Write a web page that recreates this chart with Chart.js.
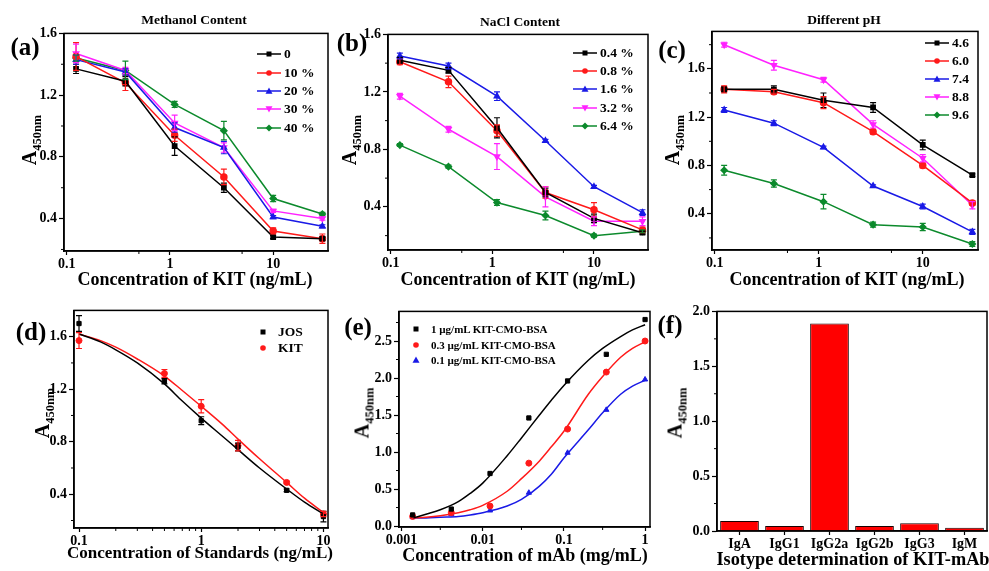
<!DOCTYPE html>
<html>
<head>
<meta charset="utf-8">
<script src="https://cdn.jsdelivr.net/npm/chart.js@4.4.1/dist/chart.umd.min.js"></script>
<style>
  body { margin: 0; width: 989px; height: 571px; overflow: hidden; background: #fff; position: relative;
         font-family: "Liberation Serif", "Times New Roman", serif; font-weight: bold; color: #000; }
  canvas { position: absolute; }
  .t { position: absolute; white-space: nowrap; transform: translate(-50%, -50%); }
  .ylab { position: absolute; white-space: nowrap; transform: translate(-50%, -50%) rotate(-90deg); font-size: 20px; }
  .ylab sub { font-size: 12.5px; }
  .leg { position: absolute; display: flex; align-items: center; white-space: nowrap; transform: translateY(-50%); }
  .leg svg { margin-right: 3px; }
</style>
</head>
<body>
<script>
// x values (ng/mL) for panels a-c
const kitConc = [0.123, 0.37, 1.11, 3.33, 10, 30];

// (a) methanol content
const methanolLabels = ["0", "10 %", "20 %", "30 %", "40 %"];
const meth0 = [1.37, 1.29, 0.87, 0.60, 0.28, 0.27];
const meth10 = [1.45, 1.28, 0.94, 0.67, 0.32, 0.27];
const meth20 = [1.43, 1.35, 0.99, 0.86, 0.41, 0.35];
const meth30 = [1.47, 1.36, 1.02, 0.86, 0.45, 0.40];
const meth40 = [1.44, 1.36, 1.14, 0.97, 0.53, 0.43];
const meth0Err = [0.03, 0.03, 0.06, 0.03, 0.01, 0.01];
const meth10Err = [0.09, 0.05, 0.04, 0.05, 0.02, 0.03];
const meth20Err = [0.03, 0.02, 0.03, 0.04, 0.01, 0.01];
const meth30Err = [0.06, 0.02, 0.05, 0.03, 0.01, 0.01];
const meth40Err = [0.02, 0.06, 0.02, 0.06, 0.02, 0.01];

// (b) NaCl content
const naclLabels = ["0.4 %", "0.8 %", "1.6 %", "3.2 %", "6.4 %"];
const nacl04 = [1.42, 1.35, 0.95, 0.50, 0.32, 0.22];
const nacl08 = [1.41, 1.27, 0.93, 0.50, 0.38, 0.24];
const nacl16 = [1.45, 1.38, 1.17, 0.86, 0.54, 0.36];
const nacl32 = [1.17, 0.94, 0.75, 0.47, 0.30, 0.30];
const nacl64 = [0.83, 0.68, 0.43, 0.34, 0.20, 0.23];
const nacl04Err = [0.02, 0.02, 0.07, 0.03, 0.03, 0.01];
const nacl08Err = [0.02, 0.04, 0.04, 0.04, 0.05, 0.02];
const nacl16Err = [0.02, 0.02, 0.03, 0.01, 0.01, 0.02];
const nacl32Err = [0.02, 0.02, 0.09, 0.07, 0.03, 0.03];
const nacl64Err = [0.01, 0.01, 0.02, 0.03, 0.01, 0.01];

// (c) different pH
const phLabels = ["4.6", "6.0", "7.4", "8.8", "9.6"];
const ph46 = [1.43, 1.43, 1.34, 1.28, 0.97, 0.72];
const ph60 = [1.43, 1.41, 1.32, 1.08, 0.80, 0.49];
const ph74 = [1.26, 1.15, 0.95, 0.63, 0.46, 0.25];
const ph88 = [1.80, 1.63, 1.51, 1.14, 0.86, 0.47];
const ph96 = [0.76, 0.65, 0.50, 0.31, 0.29, 0.15];
const ph46Err = [0.02, 0.03, 0.06, 0.04, 0.04, 0.01];
const ph60Err = [0.03, 0.02, 0.05, 0.02, 0.02, 0.02];
const ph74Err = [0.02, 0.02, 0.01, 0.01, 0.02, 0.02];
const ph88Err = [0.02, 0.04, 0.02, 0.03, 0.03, 0.03];
const ph96Err = [0.04, 0.03, 0.06, 0.02, 0.03, 0.02];

// (d) standards
const stdConc = [0.1, 0.5, 1, 2, 5, 10];
const josVals = [1.70, 1.26, 0.96, 0.76, 0.43, 0.23];
const kitVals = [1.57, 1.32, 1.07, 0.77, 0.49, 0.25];
const josErr = [0.06, 0.02, 0.03, 0.03, 0.01, 0.04];
const kitErr = [0.06, 0.03, 0.05, 0.04, 0.01, 0.02];
const stdFitX = [0.1, 0.15, 0.2, 0.3, 0.5, 0.7, 1, 1.5, 2, 3, 5, 7, 10];
const josFit = [1.62, 1.56, 1.50, 1.40, 1.24, 1.11, 0.98, 0.84, 0.74, 0.60, 0.44, 0.34, 0.25];
const kitFit = [1.62, 1.57, 1.52, 1.43, 1.30, 1.19, 1.07, 0.93, 0.82, 0.67, 0.49, 0.37, 0.26];

// (e) mAb titration
const mabLabels = ["1 \u00b5g/mL KIT-CMO-BSA", "0.3 \u00b5g/mL KIT-CMO-BSA", "0.1 \u00b5g/mL KIT-CMO-BSA"];
const mabConc = [0.00137, 0.0041, 0.0123, 0.037, 0.111, 0.333, 1];
const mab1 = [0.15, 0.23, 0.71, 1.46, 1.96, 2.32, 2.79];
const mab03 = [0.13, 0.18, 0.27, 0.85, 1.31, 2.08, 2.50];
const mab01 = [0.12, 0.16, 0.21, 0.45, 0.99, 1.57, 1.98];
const mabFitX = [0.0014, 0.002, 0.003, 0.005, 0.007, 0.01, 0.02, 0.03, 0.05, 0.07, 0.1, 0.2, 0.3, 0.5, 0.7, 1];
const mab1Fit = [0.11, 0.16, 0.22, 0.33, 0.44, 0.58, 0.95, 1.19, 1.50, 1.70, 1.90, 2.24, 2.40, 2.56, 2.65, 2.72];
const mab03Fit = [0.11, 0.12, 0.14, 0.18, 0.22, 0.28, 0.47, 0.64, 0.88, 1.07, 1.28, 1.78, 2.02, 2.28, 2.40, 2.49];
const mab01Fit = [0.11, 0.11, 0.12, 0.13, 0.15, 0.18, 0.27, 0.36, 0.54, 0.70, 0.92, 1.30, 1.53, 1.78, 1.89, 1.97];

// (f) isotype
const isotypes = ["IgA", "IgG1", "IgG2a", "IgG2b", "IgG3", "IgM"];
const isotypeVals = [0.09, 0.045, 1.89, 0.045, 0.07, 0.03];

// ---- styling helpers ----
const BLACK = "#000000", RED = "#ff1a1a", BLUE = "#1a1ae6", PINK = "#ff22ff", GREEN = "#0c8a2c";
const seriesColors = [BLACK, RED, BLUE, PINK, GREEN];
const seriesShapes = ["rect", "circle", "triangle", "triDown", "rectRot"];
const tickFont = { family: "Liberation Serif", weight: "bold", size: 14 };
const PADL = 40, PADT = 8, PADR = 14, PADB = 24;
const minorTicks = {};

const framePlugin = {
  id: "frame",
  afterDraw(chart) {
    const { ctx, chartArea: a, scales } = chart;
    ctx.save();
    ctx.strokeStyle = "#000";
    ctx.lineWidth = 1.5;
    ctx.strokeRect(a.left, a.top, a.right - a.left, a.bottom - a.top);
    const m = minorTicks[chart.canvas.id] || {};
    ctx.lineWidth = 1;
    (m.x || []).forEach(v => {
      const px = scales.x.getPixelForValue(v);
      ctx.beginPath(); ctx.moveTo(px, a.bottom); ctx.lineTo(px, a.bottom + 3); ctx.stroke();
    });
    (m.y || []).forEach(v => {
      const py = scales.y.getPixelForValue(v);
      ctx.beginPath(); ctx.moveTo(a.left, py); ctx.lineTo(a.left - 3, py); ctx.stroke();
    });
    ctx.restore();
  }
};

const errorBarPlugin = {
  id: "errorBars",
  afterDatasetsDraw(chart) {
    const ctx = chart.ctx, xs = chart.scales.x, ys = chart.scales.y;
    chart.data.datasets.forEach(ds => {
      if (!ds.errors) return;
      ctx.save();
      ctx.strokeStyle = ds.borderColor;
      ctx.lineWidth = 1.2;
      ds.data.forEach((p, j) => {
        const e = ds.errors[j];
        if (!e) return;
        const x = xs.getPixelForValue(p.x);
        const y1 = ys.getPixelForValue(p.y + e), y2 = ys.getPixelForValue(p.y - e);
        ctx.beginPath();
        ctx.moveTo(x, y1); ctx.lineTo(x, y2);
        ctx.moveTo(x - 3, y1); ctx.lineTo(x + 3, y1);
        ctx.moveTo(x - 3, y2); ctx.lineTo(x + 3, y2);
        ctx.stroke();
      });
      ctx.restore();
    });
  }
};

function makeCanvas(id, r) {
  const c = document.createElement("canvas");
  const w = r.R - r.L + PADL + PADR, h = r.B - r.T + PADT + PADB;
  c.id = id; c.width = w; c.height = h;
  c.style.left = (r.L - PADL) + "px"; c.style.top = (r.T - PADT) + "px";
  c.style.width = w + "px"; c.style.height = h + "px";
  document.body.appendChild(c);
  return c;
}

function xAxis(type, min, max, ticks) {
  return {
    type, min, max,
    afterBuildTicks: s => { s.ticks = ticks.map(v => ({ value: v })); },
    afterFit: s => { s.height = PADB; },
    ticks: { font: tickFont, color: "#000", padding: 1, maxRotation: 0, autoSkip: false, callback: v => String(v) },
    grid: { drawOnChartArea: false, tickLength: 4, tickColor: "#000", tickWidth: 1.2 },
    border: { color: "#000", width: 1.5 }
  };
}

function yAxis(min, max, ticks, digits) {
  return {
    type: "linear", min, max,
    afterBuildTicks: s => { s.ticks = ticks.map(v => ({ value: v })); },
    afterFit: s => { s.width = PADL; },
    ticks: { font: tickFont, color: "#000", padding: 2, callback: v => Number(v).toFixed(digits) },
    grid: { drawOnChartArea: false, tickLength: 5, tickColor: "#000", tickWidth: 1.2 },
    border: { color: "#000", width: 1.5 }
  };
}

function baseOptions(x, y) {
  return {
    responsive: false, animation: false, devicePixelRatio: 1,
    layout: { padding: { top: PADT, right: PADR, left: 0, bottom: 0 } },
    plugins: { legend: { display: false }, tooltip: { enabled: false } },
    scales: { x, y }
  };
}

function lineSet(xs, ys, errs, i) {
  const shape = seriesShapes[i];
  return {
    data: xs.map((x, k) => ({ x, y: ys[k] })),
    errors: errs,
    borderColor: seriesColors[i], backgroundColor: seriesColors[i],
    borderWidth: 1.5,
    pointStyle: shape === "triDown" ? "triangle" : shape,
    rotation: shape === "triDown" ? 180 : 0,
    pointRadius: 3, tension: 0
  };
}

function kitPanel(id, rect, yMin, yMax, series, errs) {
  minorTicks[id] = { x: [0.5, 5], y: [0.2, 0.6, 1.0, 1.4, 1.8] };
  new Chart(makeCanvas(id, rect), {
    type: "line",
    data: { datasets: series.map((s, i) => lineSet(kitConc, s, errs[i], i)) },
    options: baseOptions(xAxis("logarithmic", 0.094, 34, [0.1, 1, 10]), yAxis(yMin, yMax, [0.4, 0.8, 1.2, 1.6], 1)),
    plugins: [errorBarPlugin, framePlugin]
  });
}

// (a)
kitPanel("chartA", { L: 64, R: 328, T: 31, B: 251 }, 0.19, 1.6,
  [meth0, meth10, meth20, meth30, meth40], [meth0Err, meth10Err, meth20Err, meth30Err, meth40Err]);
// (b)
kitPanel("chartB", { L: 388, R: 648, T: 32, B: 250 }, 0.1, 1.6,
  [nacl04, nacl08, nacl16, nacl32, nacl64], [nacl04Err, nacl08Err, nacl16Err, nacl32Err, nacl64Err]);
// (c)
kitPanel("chartC", { L: 712, R: 978, T: 29, B: 250 }, 0.1, 1.91,
  [ph46, ph60, ph74, ph88, ph96], [ph46Err, ph60Err, ph74Err, ph88Err, ph96Err]);

// (d)
minorTicks.chartD = { x: [0.2, 0.3, 0.4, 0.5, 0.6, 0.7, 0.8, 0.9, 2, 3, 4, 5, 6, 7, 8, 9], y: [0.2, 0.6, 1.0, 1.4] };
new Chart(makeCanvas("chartD", { L: 74, R: 328, T: 308, B: 528 }), {
  type: "line",
  data: {
    datasets: [
      { data: stdFitX.map((x, k) => ({ x, y: josFit[k] })), borderColor: BLACK, borderWidth: 1.5, pointRadius: 0, cubicInterpolationMode: "monotone" },
      { data: stdFitX.map((x, k) => ({ x, y: kitFit[k] })), borderColor: RED, borderWidth: 1.5, pointRadius: 0, cubicInterpolationMode: "monotone" },
      { data: stdConc.map((x, k) => ({ x, y: josVals[k] })), errors: josErr, showLine: false, borderColor: BLACK, backgroundColor: BLACK, pointStyle: "rect", pointRadius: 3 },
      { data: stdConc.map((x, k) => ({ x, y: kitVals[k] })), errors: kitErr, showLine: false, borderColor: RED, backgroundColor: RED, pointStyle: "circle", pointRadius: 3 }
    ]
  },
  options: baseOptions(xAxis("logarithmic", 0.091, 10.9, [0.1, 1, 10]), yAxis(0.143, 1.8, [0.4, 0.8, 1.2, 1.6], 1)),
  plugins: [errorBarPlugin, framePlugin]
});

// (e)
minorTicks.chartE = { x: [0.003, 0.03, 0.3], y: [0.25, 0.75, 1.25, 1.75, 2.25, 2.75] };
const mabColors = [BLACK, RED, BLUE], mabShapes = ["rect", "circle", "triangle"];
const mabSeries = [mab1, mab03, mab01], mabFits = [mab1Fit, mab03Fit, mab01Fit];
new Chart(makeCanvas("chartE", { L: 399, R: 650, T: 309, B: 527 }), {
  type: "line",
  data: {
    datasets: [
      ...mabFits.map((f, i) => ({ data: mabFitX.map((x, k) => ({ x, y: f[k] })), borderColor: mabColors[i], borderWidth: 1.5, pointRadius: 0, cubicInterpolationMode: "monotone" })),
      ...mabSeries.map((s, i) => ({ data: mabConc.map((x, k) => ({ x, y: s[k] })), showLine: false, borderColor: mabColors[i], backgroundColor: mabColors[i], pointStyle: mabShapes[i], pointRadius: 3 }))
    ]
  },
  options: baseOptions(xAxis("logarithmic", 0.00093, 1.15, [0.001, 0.01, 0.1, 1]), yAxis(-0.013, 2.9, [0, 0.5, 1.0, 1.5, 2.0, 2.5], 1)),
  plugins: [framePlugin]
});

// (f)
minorTicks.chartF = { y: [0.25, 0.75, 1.25, 1.75] };
const fX = xAxis("category", undefined, undefined, []);
delete fX.afterBuildTicks; delete fX.min; delete fX.max;
fX.grid.offset = false;
fX.ticks.callback = function (v) { return this.getLabelForValue(v); };
new Chart(makeCanvas("chartF", { L: 717, R: 987, T: 309, B: 531 }), {
  type: "bar",
  data: {
    labels: isotypes,
    datasets: [{ data: isotypeVals, backgroundColor: "#ff0000", borderColor: "#1a0000", borderWidth: 1, barPercentage: 0.86, categoryPercentage: 1 }]
  },
  options: baseOptions(fX, yAxis(0, 2.0, [0, 0.5, 1.0, 1.5, 2.0], 1)),
  plugins: [framePlugin]
});

// ---- text overlays ----
function addText(html, x, y, size, cls) {
  const d = document.createElement("div");
  d.className = cls || "t";
  d.innerHTML = html;
  d.style.left = x + "px"; d.style.top = y + "px";
  if (size) d.style.fontSize = size + "px";
  document.body.appendChild(d);
}

function markerSvg(shape, color, withLine) {
  let m = "";
  if (shape === "rect") m = `<rect x="9.5" y="2.5" width="5" height="5" fill="${color}"/>`;
  else if (shape === "circle") m = `<circle cx="12" cy="5" r="2.8" fill="${color}"/>`;
  else if (shape === "triangle") m = `<polygon points="12,1.5 15.5,7.8 8.5,7.8" fill="${color}"/>`;
  else if (shape === "triDown") m = `<polygon points="8.5,2.2 15.5,2.2 12,8.5" fill="${color}"/>`;
  else m = `<polygon points="12,1.5 15.5,5 12,8.5 8.5,5" fill="${color}"/>`;
  const line = withLine ? `<line x1="0" y1="5" x2="24" y2="5" stroke="${color}" stroke-width="1.5"/>` : "";
  return `<svg width="24" height="10">${line}${m}</svg>`;
}

function addLegend(x, ys, labels, colors, shapes, withLine, size) {
  labels.forEach((lab, i) => {
    const d = document.createElement("div");
    d.className = "leg";
    d.style.left = x + "px"; d.style.top = ys[i] + "px"; d.style.fontSize = size + "px";
    d.innerHTML = markerSvg(shapes[i], colors[i], withLine) + `<span>${lab}</span>`;
    document.body.appendChild(d);
  });
}

addLegend(257, [54, 73, 91, 109, 128], methanolLabels, seriesColors, seriesShapes, true, 13.5);
addLegend(573, [53, 71, 89, 108, 126], naclLabels, seriesColors, seriesShapes, true, 13.5);
addLegend(925, [43, 61, 79, 97, 115], phLabels, seriesColors, seriesShapes, true, 13.5);
addLegend(251, [332, 348], ["JOS", "KIT"], [BLACK, RED], ["rect", "circle"], false, 13.5);
addLegend(404, [329, 345, 360], mabLabels, mabColors, mabShapes, false, 11);

addText("Methanol Content", 194, 20, 13.5);
addText("NaCl Content", 520, 22, 13.5);
addText("Different pH", 844, 20, 13.5);

addText("(a)", 25, 47, 25);
addText("(b)", 352, 43, 25);
addText("(c)", 672, 50, 25);
addText("(d)", 31, 332, 25);
addText("(e)", 358, 327, 25);
addText("(f)", 670, 325, 25);

const ylab = "A<sub>450nm</sub>";
addText(ylab, 31, 140, null, "ylab");
addText(ylab, 351, 140, null, "ylab");
addText(ylab, 674, 140, null, "ylab");
addText(ylab, 44, 413, null, "ylab");
addText(ylab, 364, 413, null, "ylab");
addText(ylab, 677, 413, null, "ylab");

addText("Concentration of KIT (ng/mL)", 195, 279, 18);
addText("Concentration of KIT (ng/mL)", 518, 279, 18);
addText("Concentration of KIT (ng/mL)", 847, 279, 18);
addText("Concentration of Standards (ng/mL)", 200, 553, 17);
addText("Concentration of mAb (mg/mL)", 525, 555, 18);
addText("Isotype determination of KIT-mAb", 853, 559, 18.3);
</script>
</body>
</html>
